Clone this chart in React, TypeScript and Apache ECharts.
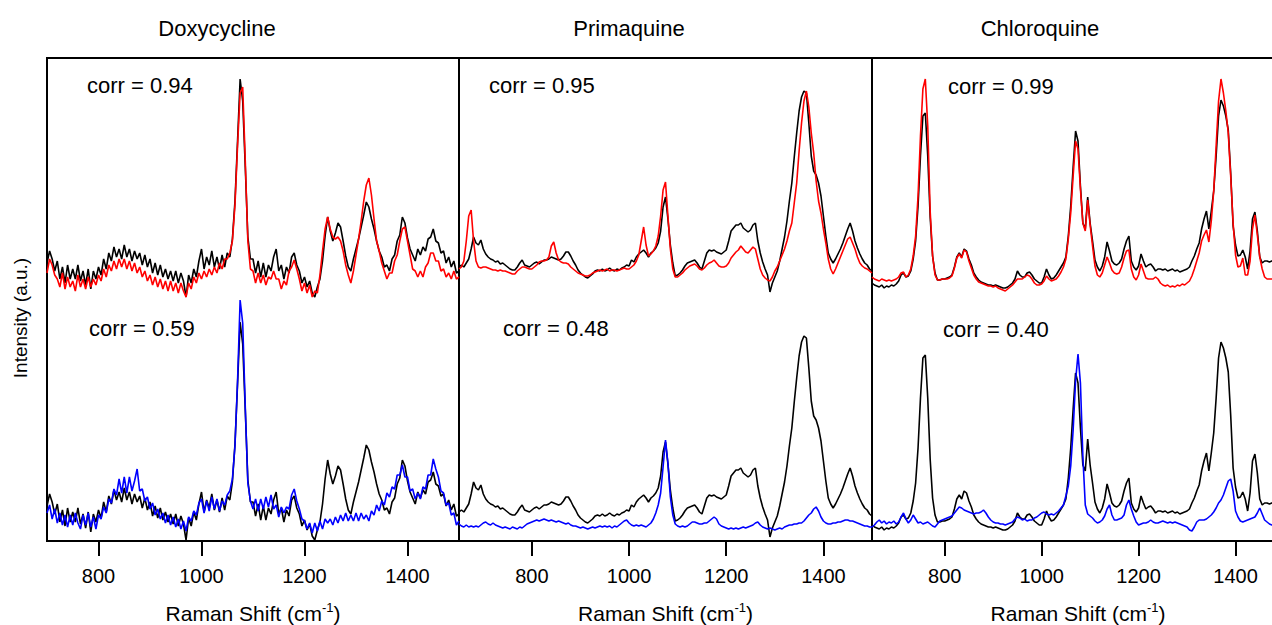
import { useEffect, useRef } from "react";
import * as echarts from "echarts";

const FONT = '"Liberation Sans", Arial, Helvetica, sans-serif';

const PANEL_TITLES = ["Doxycycline", "Primaquine", "Chloroquine"];
const TOP_CORR = ["corr = 0.94", "corr = 0.95", "corr = 0.99"];
const BOTTOM_CORR = ["corr = 0.59", "corr = 0.48", "corr = 0.40"];
const X_MIN = [700, 650, 650];
const X_MAX = [1500, 1500, 1500];
const TICK_VALUES = [800, 1000, 1200, 1400];
const X_NAME = "{a|Raman Shift (cm}{s|-1}{a|)}";
const Y_NAME = "Intensity (a.u.)";
const Y_MAX = 483;
const STEP = 5;
// vertical offset of the reference (black) spectrum in the lower trace
const BOTTOM_OFFSET = [243, 245, 242];

// ---------- Doxycycline (700..1500, step 5) ----------
const DOXY_REF = [
  278, 290, 282, 270, 280, 262, 274, 258, 276, 262,
  272, 262, 276, 260, 270, 256, 272, 252, 270, 262,
  274, 266, 282, 272, 288, 280, 294, 284, 292, 282,
  296, 284, 292, 280, 290, 282, 288, 276, 286, 274,
  282, 268, 278, 266, 276, 264, 272, 262, 270, 260,
  270, 258, 268, 260, 244, 266, 258, 272, 264, 280,
  292, 272, 284, 276, 290, 274, 284, 272, 286, 274,
  288, 284, 302, 340, 400, 462, 440, 374, 304, 282,
  282, 268, 280, 264, 278, 264, 276, 270, 284, 292,
  270, 276, 262, 274, 268, 284, 288, 276, 270, 258,
  264, 254, 260, 248, 244, 254, 262, 280, 305, 324,
  310, 300, 308, 318, 314, 300, 285, 274, 270, 282,
  292, 302, 314, 326, 339, 334, 322, 312, 300, 290,
  284, 274, 276, 270, 282, 286, 300, 306, 324, 318,
  303, 292, 286, 280, 292, 286, 294, 290, 302, 304,
  312, 300, 298, 288, 290, 278, 284, 274, 280, 268,
  270,
];
const DOXY_RED = [
  268, 282, 276, 266, 262, 254, 268, 252, 264, 254,
  260, 250, 266, 254, 262, 252, 264, 254, 262, 256,
  266, 260, 272, 264, 276, 270, 280, 272, 282, 274,
  282, 272, 280, 270, 278, 268, 274, 264, 270, 260,
  266, 256, 264, 254, 262, 252, 260, 250, 260, 250,
  258, 248, 258, 250, 244, 258, 252, 264, 258, 268,
  262, 270, 264, 272, 266, 274, 268, 278, 272, 282,
  282, 288, 300, 336, 395, 448, 454, 380, 300, 272,
  270, 258, 268, 258, 266, 256, 264, 262, 270, 262,
  262, 252, 260, 256, 270, 274, 281, 272, 262, 250,
  258, 248, 256, 244, 250, 248, 266, 290, 312, 324,
  312, 304, 302, 304, 300, 290, 276, 266, 258, 270,
  286, 302, 320, 340, 356, 363, 346, 322, 300, 290,
  278, 270, 262, 268, 268, 280, 286, 300, 312, 314,
  300, 286, 272, 270, 264, 270, 264, 274, 278, 288,
  288, 280, 280, 270, 272, 264, 268, 262, 270, 262,
  264,
];
const DOXY_BLUE = [
  28, 36, 22, 32, 18, 28, 16, 26, 14, 26,
  16, 28, 18, 12, 26, 16, 28, 14, 24, 12,
  26, 22, 34, 28, 42, 38, 52, 46, 62, 48,
  64, 48, 64, 50, 60, 72, 50, 52, 40, 44,
  32, 38, 26, 32, 22, 28, 18, 26, 16, 24,
  14, 22, 12, 20, 10, 24, 20, 30, 26, 38,
  42, 28, 40, 30, 44, 32, 42, 30, 40, 36,
  46, 50, 62, 95, 160, 241, 218, 134, 58, 40,
  32, 42, 30, 42, 32, 44, 34, 46, 32, 36,
  24, 34, 28, 34, 32, 46, 52, 40, 32, 22,
  20, 12, 18, 8, 18, 10, 20, 12, 22, 18,
  22, 16, 24, 18, 26, 20, 28, 20, 26, 20,
  28, 20, 28, 22, 26, 20, 30, 26, 36, 30,
  40, 36, 48, 44, 54, 52, 66, 66, 76, 64,
  64, 50, 52, 42, 48, 42, 54, 52, 66, 66,
  82, 72, 64, 50, 48, 36, 38, 26, 28, 16,
  20,
];

// ---------- Primaquine (650..1500, step 5) ----------
const PRIMA_REF = [
  274, 276, 274, 278, 282, 292, 304, 298, 296, 301,
  292, 287, 284, 282, 281, 279, 280, 277, 278, 276,
  274, 272, 271, 271, 274, 278, 281, 276, 275, 274,
  276, 278, 279, 277, 279, 281, 281, 282, 284, 283,
  282, 281, 282, 285, 289, 289, 285, 280, 276, 271,
  268, 266, 264, 263, 265, 267, 270, 271, 270, 272,
  270, 271, 273, 271, 270, 272, 271, 273, 274, 276,
  275, 281, 279, 284, 287, 289, 291, 288, 284, 288,
  290, 293, 298, 310, 334, 344, 322, 296, 278, 265,
  266, 268, 271, 275, 278, 279, 280, 281, 278, 274,
  272, 280, 288, 291, 290, 291, 289, 288, 287, 289,
  291, 300, 310, 313, 316, 316, 318, 313, 311, 309,
  311, 316, 318, 300, 288, 279, 272, 266, 249, 258,
  264, 270, 280, 292, 304, 320, 340, 358, 384, 408,
  430, 444, 450, 448, 418, 385, 370, 366, 358, 345,
  325, 305, 288, 282, 278, 282, 287, 292, 298, 305,
  312, 318, 310, 300, 293, 287, 282, 278, 276, 272,
  270,
];
const PRIMA_RED = [
  272, 274, 280, 300, 325, 331, 300, 280, 274, 273,
  274, 274, 273, 272, 271, 271, 270, 271, 270, 270,
  269, 268, 267, 267, 270, 272, 274, 274, 273, 272,
  272, 274, 276, 279, 280, 280, 281, 284, 295, 299,
  288, 281, 279, 278, 278, 277, 274, 272, 270, 268,
  267, 266, 265, 265, 266, 268, 269, 270, 271, 270,
  271, 272, 270, 271, 271, 270, 271, 272, 273, 272,
  272, 274, 276, 280, 286, 300, 314, 296, 285, 287,
  290, 295, 305, 325, 351, 359, 325, 292, 272, 264,
  264, 266, 268, 271, 273, 275, 276, 277, 275, 272,
  271, 273, 276, 278, 279, 281, 278, 275, 274, 274,
  275, 278, 283, 286, 289, 291, 295, 292, 289, 288,
  291, 294, 292, 282, 272, 266, 263, 261, 260, 264,
  270, 274, 280, 286, 292, 300, 310, 318, 338, 358,
  390, 418, 440, 450, 434, 408, 388, 360, 340, 328,
  312, 298, 282, 272, 267, 272, 278, 284, 290, 296,
  302, 304, 298, 292, 284, 278, 275, 273, 272, 270,
  268,
];
const PRIMA_BLUE = [
  17, 15, 14, 16, 14, 15, 14, 15, 14, 16,
  18, 19, 17, 16, 18, 16, 15, 14, 13, 14,
  13, 12, 14, 13, 12, 14, 13, 15, 17, 18,
  19, 20, 21, 20, 21, 22, 21, 20, 21, 20,
  19, 20, 19, 18, 17, 18, 16, 15, 15, 14,
  13, 14, 13, 12, 13, 14, 13, 14, 15, 14,
  15, 14, 15, 13, 15, 14, 16, 18, 20, 21,
  18, 16, 15, 16, 15, 16, 15, 14, 16, 18,
  22, 28, 36, 48, 74, 101, 78, 44, 26, 17,
  15, 14, 15, 14, 15, 17, 19, 19, 18, 17,
  17, 18, 18, 20, 22, 24, 22, 17, 15, 14,
  13, 12, 13, 12, 13, 12, 13, 14, 13, 14,
  15, 16, 18, 19, 16, 14, 13, 12, 13, 12,
  11, 12, 13, 12, 14, 15, 16, 16, 17, 17,
  18, 18, 20, 23, 26, 28, 32, 34, 30, 24,
  20, 18, 17, 17, 18, 18, 19, 19, 20, 21,
  21, 20, 20, 19, 18, 17, 16, 15, 15, 14,
  14,
];

// ---------- Chloroquine (650..1480, step 5) ----------
const CHLORO_REF = [
  258, 256, 255, 254, 256, 253, 255, 254, 256, 255,
  257, 260, 266, 268, 264, 265, 270, 282, 300, 335,
  385, 425, 428, 385, 324, 285, 268, 261, 261, 262,
  262, 263, 264, 266, 274, 284, 288, 284, 292, 290,
  282, 276, 268, 264, 261, 259, 258, 257, 256, 256,
  255, 256, 255, 254, 253, 253, 254, 256, 258, 262,
  270, 266, 264, 264, 268, 269, 266, 262, 260, 258,
  258, 264, 272, 266, 262, 263, 266, 270, 274, 278,
  284, 305, 335, 374, 410, 400, 355, 318, 312, 344,
  318, 300, 281, 274, 270, 275, 284, 299, 290, 280,
  277, 276, 278, 282, 292, 300, 305, 280, 274, 271,
  275, 287, 280, 274, 276, 277, 274, 270, 272, 272,
  271, 272, 270, 271, 272, 270, 271, 269, 270, 271,
  272, 274, 280, 285, 292, 298, 312, 322, 330, 312,
  330, 350, 385, 425, 441, 435, 425, 411, 368, 315,
  296, 285, 286, 291, 284, 272, 290, 322, 329, 310,
  284, 278, 280, 280, 279, 280, 281,
];
const CHLORO_RED = [
  264, 262, 261, 260, 262, 261, 260, 261, 260, 261,
  262, 264, 268, 269, 264, 266, 272, 285, 305, 345,
  405, 452, 462, 415, 330, 285, 266, 261, 261, 262,
  262, 262, 263, 265, 273, 283, 287, 283, 291, 289,
  280, 273, 266, 262, 259, 258, 257, 256, 255, 255,
  254, 255, 253, 252, 251, 250, 252, 254, 256, 259,
  262, 262, 262, 264, 266, 265, 262, 258, 256, 256,
  257, 260, 265, 262, 260, 261, 262, 265, 269, 274,
  282, 302, 328, 365, 400, 392, 352, 318, 310, 341,
  316, 295, 275, 266, 264, 268, 276, 284, 278, 271,
  268, 267, 268, 274, 283, 290, 291, 272, 264, 261,
  266, 277, 270, 263, 262, 262, 262, 264, 262, 258,
  256, 255, 256, 254, 255, 254, 256, 255, 257, 256,
  258, 260, 265, 272, 280, 288, 300, 306, 311, 299,
  320, 350, 395, 440, 462, 448, 430, 408, 365, 318,
  286, 274, 275, 283, 266, 266, 280, 312, 326, 306,
  284, 272, 264, 262, 262, 262, 262,
];
const CHLORO_BLUE = [
  14, 16, 19, 21, 18, 20, 17, 19, 18, 20,
  17, 19, 24, 28, 22, 18, 21, 26, 22, 18,
  19, 17, 18, 19, 17, 15, 14, 17, 20, 21,
  22, 23, 24, 25, 28, 31, 34, 33, 31, 30,
  29, 28, 27, 28, 28, 29, 31, 28, 24, 21,
  19, 18, 18, 17, 17, 16, 17, 18, 19, 22,
  24, 23, 21, 22, 20, 21, 21, 23, 24, 26,
  28, 29, 27, 26, 27, 26, 28, 30, 33, 36,
  45, 55, 75, 111, 160, 187, 158, 85, 36, 27,
  25, 23, 20, 18, 19, 21, 25, 32, 36, 26,
  21, 21, 22, 23, 26, 36, 41, 32, 25, 19,
  16, 17, 18, 18, 19, 21, 19, 18, 18, 19,
  20, 19, 18, 19, 18, 19, 18, 17, 16, 15,
  14, 11, 10, 14, 19, 21, 21, 21, 22, 24,
  26, 29, 33, 38, 41, 46, 53, 60, 62, 50,
  30, 24, 20, 19, 20, 21, 22, 23, 24, 28,
  33, 27, 21, 19, 17, 16, 16,
];

const PANEL_REF = [DOXY_REF, PRIMA_REF, CHLORO_REF];
const PANEL_TOP = [DOXY_RED, PRIMA_RED, CHLORO_RED];
const PANEL_BOTTOM = [DOXY_BLUE, PRIMA_BLUE, CHLORO_BLUE];

// layout (not data)
const GRID_LEFT = [47, 459, 872];
const GRID_WIDTH = [412, 413, 412];
const GRID_TOP = 58;
const GRID_HEIGHT = 483;
const TITLE_X = [217, 629, 1040];
const TOP_CORR_POS = [[87, 85], [489, 85], [948, 86]];
const BOTTOM_CORR_POS = [[89, 328], [503, 328], [943, 329]];

function pairs(start: number, ys: number[], shift = 0) {
  return ys.map((y, i) => [start + i * STEP, y - shift]);
}

function buildOption() {
  const grids = GRID_LEFT.map((left, i) => ({
    left,
    top: GRID_TOP,
    width: GRID_WIDTH[i],
    height: GRID_HEIGHT,
    show: true,
    borderColor: "#000",
    borderWidth: 2,
    backgroundColor: "transparent",
    containLabel: false,
    outerBoundsMode: "none",
  }));

  const xAxes = GRID_LEFT.map((_, i) => ({
    type: "value",
    gridIndex: i,
    min: X_MIN[i],
    max: X_MAX[i],
    axisLine: { show: false },
    splitLine: { show: false },
    axisTick: {
      show: true,
      inside: false,
      length: 15,
      customValues: TICK_VALUES,
      lineStyle: { color: "#000", width: 2 },
    },
    axisLabel: {
      show: true,
      customValues: TICK_VALUES,
      formatter: (v: number) => String(v),
      margin: 25,
      color: "#000",
      fontSize: 20,
      fontFamily: FONT,
    },
    name: X_NAME,
    nameLocation: "middle",
    nameGap: 60,
    nameTextStyle: {
      rich: {
        a: { fontSize: 21, fontFamily: FONT, color: "#000" },
        s: { fontSize: 13, fontFamily: FONT, color: "#000", verticalAlign: "top", padding: [0, 0, 12, 0] },
      },
    },
  }));

  const yAxes = GRID_LEFT.map((_, i) => ({
    type: "value",
    gridIndex: i,
    min: 0,
    max: Y_MAX,
    show: false,
  }));

  const series: any[] = [];
  PANEL_REF.forEach((ref, i) => {
    const common = {
      type: "line",
      xAxisIndex: i,
      yAxisIndex: i,
      showSymbol: false,
      symbol: "none",
      silent: true,
      clip: true,
    };
    series.push({ ...common, name: "ref-top-" + i, data: pairs(X_MIN[i], ref), lineStyle: { color: "#000", width: 1.6 } });
    series.push({ ...common, name: "top-" + i, data: pairs(X_MIN[i], PANEL_TOP[i]), lineStyle: { color: "#ff0000", width: 1.6 } });
    series.push({ ...common, name: "ref-bottom-" + i, data: pairs(X_MIN[i], ref, BOTTOM_OFFSET[i]), lineStyle: { color: "#000", width: 1.6 } });
    series.push({ ...common, name: "bottom-" + i, data: pairs(X_MIN[i], PANEL_BOTTOM[i]), lineStyle: { color: "#0000ff", width: 1.6 } });
  });

  const textEl = (text: string, x: number, y: number, size: number, align: string, extra: any = {}) => ({
    type: "text",
    x,
    y,
    silent: true,
    z: 100,
    ...extra,
    style: {
      text,
      fill: "#000",
      font: `${size}px ${FONT}`,
      textAlign: align,
      textVerticalAlign: "middle",
      align,
      verticalAlign: "middle",
    },
  });

  const graphics: any[] = [];
  PANEL_TITLES.forEach((t, i) => graphics.push(textEl(t, TITLE_X[i], 28, 22, "center")));
  TOP_CORR.forEach((t, i) => graphics.push(textEl(t, TOP_CORR_POS[i][0], TOP_CORR_POS[i][1], 22, "left")));
  BOTTOM_CORR.forEach((t, i) => graphics.push(textEl(t, BOTTOM_CORR_POS[i][0], BOTTOM_CORR_POS[i][1], 22, "left")));
  graphics.push(textEl(Y_NAME, 20, 318, 19, "center", { rotation: Math.PI / 2 }));

  return {
    animation: false,
    backgroundColor: "#fff",
    grid: grids,
    xAxis: xAxes,
    yAxis: yAxes,
    series,
    graphic: { elements: graphics },
  };
}

export default function App() {
  const ref = useRef<HTMLDivElement>(null);
  useEffect(() => {
    if (!ref.current) return;
    const chart = echarts.init(ref.current, undefined, { renderer: "svg" });
    chart.setOption(buildOption() as any);
    return () => chart.dispose();
  }, []);
  return (
    <div style={{ position: "absolute", left: 0, top: 0, width: 1272, height: 625, overflow: "hidden", background: "#fff" }}>
      <div ref={ref} style={{ width: 1290, height: 625 }} />
    </div>
  );
}
